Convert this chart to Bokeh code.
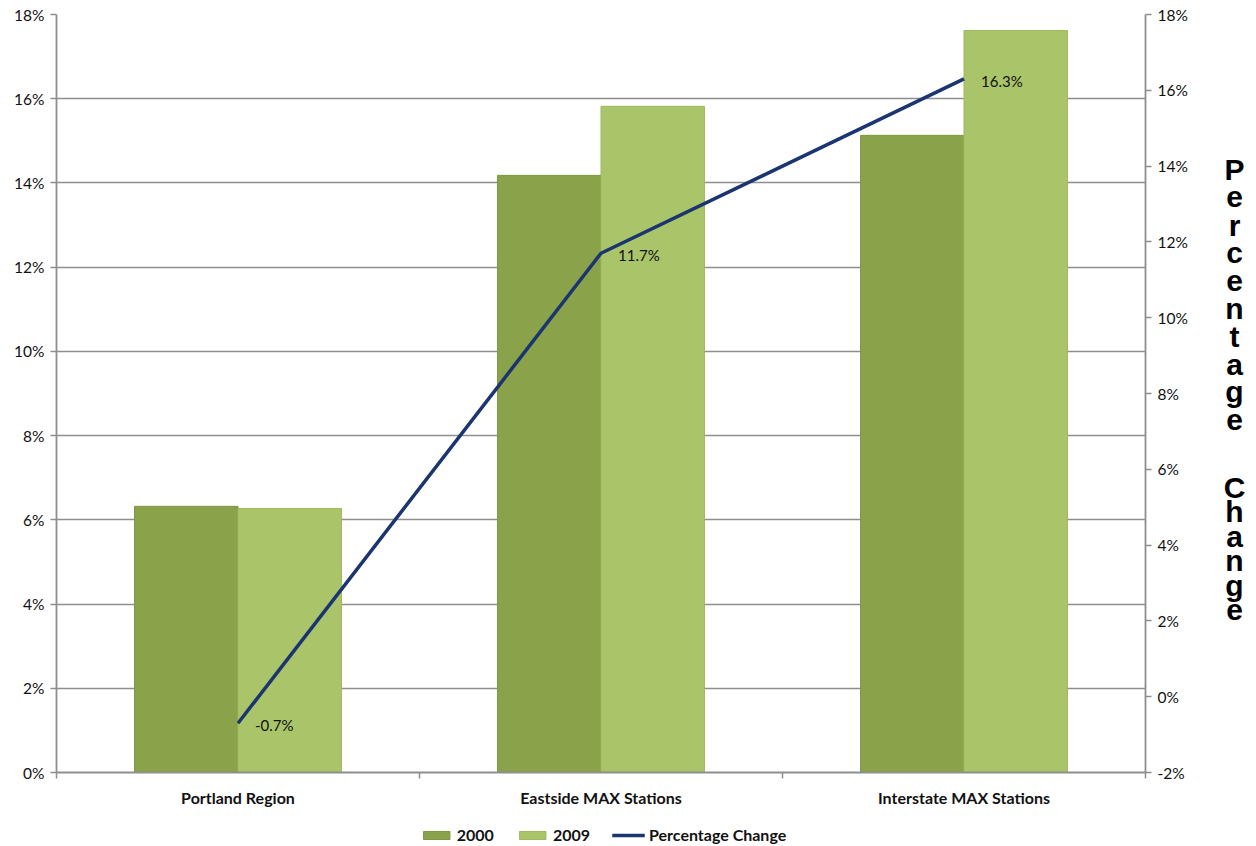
from bokeh.plotting import figure
from bokeh.layouts import row, column
from bokeh.models import (ColumnDataSource, Range1d, LinearAxis, FixedTicker,
                          PrintfTickFormatter, Legend, LegendItem, LabelSet)
from bokeh.transform import dodge
from bokeh.core.properties import value
from bokeh.embed import file_html
from bokeh.resources import INLINE

categories = ["Portland Region", "Eastside MAX Stations", "Interstate MAX Stations"]
share_2000 = [6.32, 14.18, 15.13]
share_2009 = [6.27, 15.82, 17.62]
pct_change = [-0.7, 11.7, 16.3]
pct_labels = ["-0.7%", "11.7%", "16.3%"]
left_ticks = [0, 2, 4, 6, 8, 10, 12, 14, 16, 18]
right_ticks = [-2, 0, 2, 4, 6, 8, 10, 12, 14, 16, 18]
right_title = ["Percentage", "Change"]
series_names = ["2000", "2009", "Percentage Change"]

C2000 = "#8aa34b"
C2009 = "#aac46a"
CLINE = "#1b3570"
GRID = "#8e8e8e"
FONT = "Lato"

xc = [i + 0.5 for i in range(len(categories))]
src = ColumnDataSource(dict(x=xc, a=share_2000, b=share_2009, c=pct_change, lab=pct_labels))

p = figure(width=1209, height=811, output_backend="svg", toolbar_location=None,
           x_range=Range1d(0, len(categories)), y_range=Range1d(0, 18),
           min_border_left=56, min_border_right=64, min_border_top=14, min_border_bottom=39)
p.extra_y_ranges = {"pc": Range1d(-2, 18)}
p.outline_line_color = None
p.background_fill_color = "white"
p.border_fill_color = "white"

bw = 0.285
bar_a = dict(fill_color=C2000, line_color="#7f9844", line_width=1)
bar_b = dict(fill_color=C2009, line_color="#9fb960", line_width=1)
line_s = dict(line_color=CLINE, line_width=3.5)
p.vbar(x=dodge("x", -bw / 2, range=p.x_range), top="a", width=bw, source=src, **bar_a)
p.vbar(x=dodge("x", bw / 2, range=p.x_range), top="b", width=bw, source=src, **bar_b)
p.line(x="x", y="c", source=src, y_range_name="pc", **line_s)

p.add_layout(LabelSet(x="x", y="c", text="lab", source=src, y_range_name="pc",
                      x_offset=17, y_offset=-2, text_baseline="middle", text_align="left",
                      text_font=value(FONT), text_font_size="15px", text_color="#111111"))

p.xgrid.visible = False
p.ygrid.ticker = FixedTicker(ticks=left_ticks)
p.ygrid.grid_line_color = GRID
p.ygrid.grid_line_width = 1.6

ya = p.yaxis[0]
ya.ticker = FixedTicker(ticks=left_ticks)
ya.formatter = PrintfTickFormatter(format="%d%%")

ra = LinearAxis(y_range_name="pc", ticker=FixedTicker(ticks=right_ticks),
                formatter=PrintfTickFormatter(format="%d%%"))
p.add_layout(ra, "right")

xa = p.xaxis[0]
xa.ticker = FixedTicker(ticks=xc, minor_ticks=list(range(len(categories) + 1)))
xa.major_label_overrides = {x: c for x, c in zip(xc, categories)}
xa.major_tick_line_color = None
xa.minor_tick_line_color = GRID
xa.minor_tick_out = 6
xa.minor_tick_in = 0
xa.minor_tick_line_width = 1.5
xa.major_label_text_font_style = "bold"
xa.major_label_text_font_size = "16px"
xa.major_label_standoff = 9

for ax in (ya, ra):
    ax.minor_tick_line_color = None
    ax.major_tick_out = 6
    ax.major_tick_in = 0
    ax.major_tick_line_color = GRID
    ax.major_tick_line_width = 1.5
    ax.major_label_text_font_size = "15.5px"
    ax.major_label_standoff = 6
for ax in (ya, ra, xa):
    ax.axis_line_color = GRID
    ax.axis_line_width = 1.8
    ax.major_label_text_font = FONT
    ax.major_label_text_color = "#111111"

# stacked right-hand title, drawn in a narrow companion panel
# (its y range spans the same page rows as the main frame: 15 at top, 773 at bottom)
letters, ly = [], []
for i, ch in enumerate(right_title[0]):
    letters.append(ch)
    ly.append(170 + 27.8 * i)
for j, ch in enumerate(right_title[1]):
    letters.append(ch)
    ly.append(488 + 24.4 * j)

p2 = figure(frame_width=46, frame_height=758, output_backend="svg", toolbar_location=None,
            x_range=Range1d(0, 46), y_range=Range1d(773, 15),
            min_border_left=0, min_border_right=0, min_border_top=14, min_border_bottom=0)
p2.axis.visible = False
p2.grid.visible = False
p2.outline_line_color = None
p2.text(x=[25] * len(letters), y=ly, text=letters, text_align="center",
        text_baseline="alphabetic", text_font=value("Liberation Sans"),
        text_font_style="bold", text_font_size="30px", text_color="black")

# legend strip under the chart (legend proxies sit outside the strip's visible range)
p3 = figure(width=1206, height=35, output_backend="svg", toolbar_location=None,
            x_range=Range1d(0, 1), y_range=Range1d(0, 1),
            min_border_left=0, min_border_right=0, min_border_top=0, min_border_bottom=0)
p3.axis.visible = False
p3.grid.visible = False
p3.outline_line_color = None
g1 = p3.vbar(x=[5], top=[1], width=0.1, **bar_a)
g2 = p3.vbar(x=[5], top=[1], width=0.1, **bar_b)
g3 = p3.line(x=[5, 6], y=[0.5, 0.5], **line_s)
legend = Legend(items=[LegendItem(label=n, renderers=[g]) for n, g in zip(series_names, [g1, g2, g3])],
                orientation="horizontal", location="bottom_center",
                glyph_width=33, glyph_height=10, label_standoff=4, spacing=22,
                label_text_font=FONT, label_text_font_style="bold", label_text_font_size="16px",
                label_text_color="#111111", border_line_color=None, background_fill_alpha=0,
                margin=2, padding=0, label_height=14)
p3.add_layout(legend)

layout = column(row(p, p2, spacing=0), p3, spacing=0)
open("out.html", "w").write(file_html(layout, INLINE))
